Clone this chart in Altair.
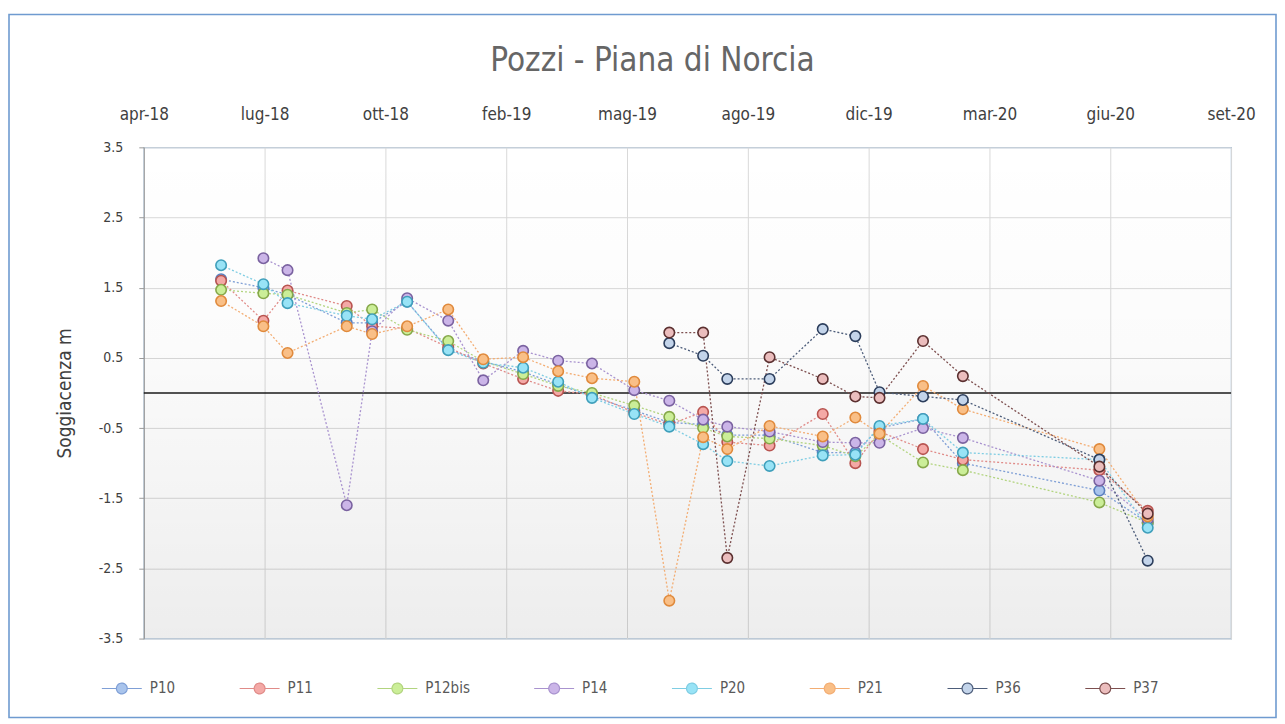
import json
import pandas as pd
import altair as alt

# ---------------- data ----------------
series = ["P10", "P11", "P12bis", "P14", "P20", "P21", "P36", "P37"]

dates = ["2018-06-13", "2018-07-18", "2018-08-07", "2018-09-25", "2018-10-16",
         "2018-11-14", "2018-12-18", "2019-01-16", "2019-02-18", "2019-03-19",
         "2019-04-16", "2019-05-21", "2019-06-19", "2019-07-17", "2019-08-06",
         "2019-09-10", "2019-10-24", "2019-11-20", "2019-12-10", "2020-01-15",
         "2020-02-17", "2020-06-09", "2020-07-19"]

P10 = [1.62, 1.50, 1.40, 1.00, 1.00, 1.30, 0.62, 0.45, 0.30, 0.12, -0.05, -0.25,
       -0.42, -0.45, -0.60, -0.60, -0.85, -0.85, -0.50, -0.37, -1.00, -1.39, -1.85]
P11 = [1.60, 1.03, 1.46, 1.24, 0.95, 0.92, 0.65, 0.42, 0.20, 0.03, -0.02, -0.28,
       -0.45, -0.27, -0.70, -0.75, -0.30, -1.00, -0.55, -0.80, -0.95, -1.10, -1.68]
P12bis = [1.47, 1.42, 1.40, 1.14, 1.19, 0.90, 0.74, 0.45, 0.27, 0.10, 0.00, -0.18,
          -0.34, -0.50, -0.62, -0.65, -0.75, -0.90, -0.60, -0.99, -1.10, -1.56, -1.85]
P14 = [None, 1.92, 1.75, -1.60, 0.88, 1.35, 1.03, 0.18, 0.60, 0.46, 0.42, 0.04,
       -0.11, -0.38, -0.48, -0.55, -0.70, -0.71, -0.71, -0.50, -0.64, -1.25, -1.80]
P20 = [1.82, 1.55, 1.28, 1.10, 1.05, 1.30, 0.61, 0.43, 0.36, 0.16, -0.07, -0.30,
       -0.48, -0.73, -0.97, -1.04, -0.89, -0.88, -0.47, -0.37, -0.85, -0.95, -1.92]
P21 = [1.31, 0.95, 0.57, 0.95, 0.84, 0.95, 1.19, 0.48, 0.51, 0.31, 0.21, 0.16,
       -2.96, -0.63, -0.80, -0.47, -0.62, -0.35, -0.58, 0.10, -0.23, -0.80, -1.76]
P36 = [None, None, None, None, None, None, None, None, None, None, None, None,
       0.71, 0.53, 0.20, 0.20, 0.91, 0.81, 0.01, -0.05, -0.10, -0.95, -2.39]
P37 = [None, None, None, None, None, None, None, None, None, None, None, None,
       0.86, 0.86, -2.35, 0.51, 0.20, -0.05, -0.07, 0.74, 0.24, -1.05, -1.72]

x_tick_dates = ["2018-04-10", "2018-07-19", "2018-10-27", "2019-02-04", "2019-05-15",
                "2019-08-23", "2019-12-01", "2020-03-10", "2020-06-18", "2020-09-26"]
x_tick_labels = ["apr-18", "lug-18", "ott-18", "feb-19", "mag-19",
                 "ago-19", "dic-19", "mar-20", "giu-20", "set-20"]

y_tick_values = [3.5, 2.5, 1.5, 0.5, -0.5, -1.5, -2.5, -3.5]
y_tick_labels = ["3.5", "2.5", "1.5", "0.5", "-0.5", "-1.5", "-2.5", "-3.5"]

title_text = "Pozzi - Piana di Norcia"
y_title = "Soggiacenza m"

# ---------------- styles ----------------
line_colors = ["#7f9fd6", "#e08b88", "#b2d47f", "#a993cf", "#7fcde3", "#f3ad73", "#4d5d7a", "#7d4f4f"]
fill_colors = ["#a9c4ec", "#f4a9a6", "#cbee98", "#cbb5e8", "#98e3f6", "#f9bf87", "#c3d4ea", "#ebbdbd"]
edge_colors = ["#5a7fbf", "#b85450", "#86a84a", "#7a62a0", "#3f9fbb", "#e08a3c", "#2c3e5c", "#5b3030"]

FONT = "Liberation Sans Narrow, DejaVu Sans Condensed, sans-serif"
W, H = 1089, 492

# ---------------- build table ----------------
all_vals = [P10, P11, P12bis, P14, P20, P21, P36, P37]
rows = []
for s, vals in zip(series, all_vals):
    for d, v in zip(dates, vals):
        if v is not None:
            rows.append({"series": s, "date": d, "value": v})
df = pd.DataFrame(rows)

def ms(d):
    return int(pd.Timestamp(d, tz="UTC").value // 10**6)

tick_ms = [ms(d) for d in x_tick_dates]
start_ms, end_ms = tick_ms[0], tick_ms[-1]
step_ms = tick_ms[1] - tick_ms[0]

x_label_expr = f"{json.dumps(x_tick_labels)}[round((time(datum.value) - {start_ms}) / {step_ms})]"
y_label_expr = f"{json.dumps(y_tick_labels)}[indexof({json.dumps(y_tick_values)}, datum.value)]"

x_enc = alt.X(
    "date:T",
    scale=alt.Scale(type="utc", domain=[start_ms, end_ms]),
    axis=alt.Axis(orient="top", values=tick_ms, labelExpr=x_label_expr, grid=True,
                  gridColor="#d9d9d9", ticks=False, domain=False, labelFontSize=17,
                  labelColor="#404040", labelPadding=24, title=None, labelFlush=False,
                  labelOverlap=False, labelFont=FONT),
)
y_enc = alt.Y(
    "value:Q",
    scale=alt.Scale(domain=[-3.5, 3.5], nice=False, zero=False),
    axis=alt.Axis(values=y_tick_values, labelExpr=y_label_expr, grid=True, gridColor="#d9d9d9",
                  tickSize=5, tickColor="#9a9a9a", domainColor="#9a9a9a", labelFontSize=14,
                  labelColor="#404040", labelPadding=16, title=y_title, titleFontSize=19,
                  titleFontWeight="normal", titlePadding=24, titleColor="#404040",
                  labelFont=FONT, titleFont=FONT),
)

legend_path = ("M-1,0L-0.27,0M0.27,0L1,0M0.27,0A0.27,0.27,0,1,1,-0.27,0"
               "A0.27,0.27,0,1,1,0.27,0")

color_enc = alt.Color(
    "series:N",
    scale=alt.Scale(domain=series, range=line_colors),
    legend=alt.Legend(title=None, orient="none", legendX=-43, legendY=521,
                      direction="horizontal", columns=8, symbolType=legend_path,
                      symbolSize=1600, symbolStrokeWidth=1.2, labelFontSize=15,
                      labelColor="#595959", labelOffset=7, columnPadding=61,
                      symbolDash=[1, 0], labelFont=FONT),
)

bg = alt.Chart(pd.DataFrame({"k": [0]})).mark_rect(
    color=alt.LinearGradient(
        gradient="linear",
        stops=[alt.GradientStop(color="rgba(0,0,0,0)", offset=0),
               alt.GradientStop(color="rgba(0,0,0,0.015)", offset=0.4),
               alt.GradientStop(color="rgba(0,0,0,0.07)", offset=1)],
        x1=0, x2=0, y1=0, y2=1)
).encode(x=alt.value(0), x2=alt.value(W), y=alt.value(0), y2=alt.value(H))

zero = alt.Chart(pd.DataFrame({"k": [0]})).mark_rule(color="#1a1a1a", strokeWidth=1.6).encode(
    y=alt.datum(0)
)

base = alt.Chart(df).encode(x=x_enc, y=y_enc)

lines = base.mark_line(strokeDash=[2, 2], strokeWidth=1.3).encode(color=color_enc)

points = base.mark_point(shape="circle", filled=True, size=110, strokeWidth=1.6, opacity=1).encode(
    fill=alt.Fill("series:N", scale=alt.Scale(domain=series, range=fill_colors), legend=None),
    stroke=alt.Stroke("series:N", scale=alt.Scale(domain=series, range=edge_colors), legend=None),
)

frame = alt.Chart(pd.DataFrame({"k": [0]})).mark_rect(
    fillOpacity=0, stroke="#6f9bd0", strokeWidth=1.6
).encode(x=alt.value(-135), x2=alt.value(W + 45), y=alt.value(-133), y2=alt.value(H + 79))

chart = alt.layer(bg, zero, lines, points, frame).properties(
    width=W, height=H,
    title=alt.TitleParams(title_text, fontSize=33, fontWeight="normal", color="#666666",
                          offset=-64, anchor="middle", frame="bounds", dx=10, font=FONT),
    padding={"left": 0, "top": 5, "right": 0, "bottom": 0},
).configure(font=FONT).configure_view(stroke="#9bbbd9", strokeWidth=1.2)

chart.save("out.html", embed_options={"renderer": "svg", "actions": False})
